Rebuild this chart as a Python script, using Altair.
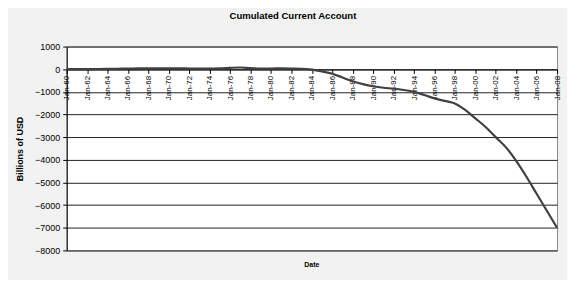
import altair as alt
import pandas as pd

years = list(range(1960, 2009))
values = [0, 3, 5, 8, 12, 18, 30, 32, 33, 32,
          33, 35, 30, 25, 30, 35, 60, 75, 45, 30,
          30, 35, 30, 20, -20, -100, -200, -370, -535, -660,
          -755, -820, -860, -920, -1000, -1140, -1290, -1400, -1510, -1800,
          -2170, -2550, -3000, -3450, -4050, -4750, -5500, -6250, -7000]
tick_years = list(range(1960, 2009, 2))
y_ticks = list(range(-8000, 1001, 1000))

df = pd.DataFrame({"date": [f"{y}-01-01" for y in years], "value": values})

FONT = "Liberation Sans"

chart = alt.Chart(df).mark_line(color="#404040", strokeWidth=2.2, interpolate="monotone").encode(
    x=alt.X(
        "date:T",
        scale=alt.Scale(type="utc",
                        domain=[alt.DateTime(year=1960, month=1, date=1, utc=True),
                                alt.DateTime(year=2008, month=1, date=1, utc=True)]),
        axis=alt.Axis(
            values=[alt.DateTime(year=y, month=1, date=1, utc=True) for y in tick_years],
            format="%b-%y", labelAngle=270, labelFontSize=8, labelFont=FONT,
            labelColor="black", labelPadding=2, labelOverlap=False,
            domainColor="black", tickColor="black", tickSize=4,
            grid=False, offset=-182,
            title="Date", titleFont=FONT, titleFontSize=7, titleFontWeight="bold",
            titleColor="black", titleX=246, titleY=196, titleBaseline="middle",
            titleAlign="center",
        ),
    ),
    y=alt.Y(
        "value:Q",
        scale=alt.Scale(domain=[-8000, 1000], nice=False, zero=False),
        axis=alt.Axis(
            values=y_ticks, format="d", labelFontSize=9, labelFont=FONT,
            labelColor="black", labelPadding=3,
            domainColor="black", tickColor="black", tickSize=4,
            grid=True, gridColor="#222222", gridWidth=1,
            title="Billions of USD", titleFont=FONT, titleFontSize=9,
            titleFontWeight="bold", titleColor="black", titlePadding=10,
        ),
    ),
).properties(
    width=493,
    height=205,
    autosize=alt.AutoSizeParams(type="none"),
    padding={"left": 59, "top": 38, "right": 10, "bottom": 29},
    background="#f2f2f2",
    title=alt.TitleParams("Cumulated Current Account", font=FONT, fontSize=9.6,
                          fontWeight="bold", color="black", offset=22, dx=-19),
).configure_view(fill="white", stroke="#888888", strokeWidth=1)

chart.save("out.html", embed_options={"renderer": "svg", "actions": False})
